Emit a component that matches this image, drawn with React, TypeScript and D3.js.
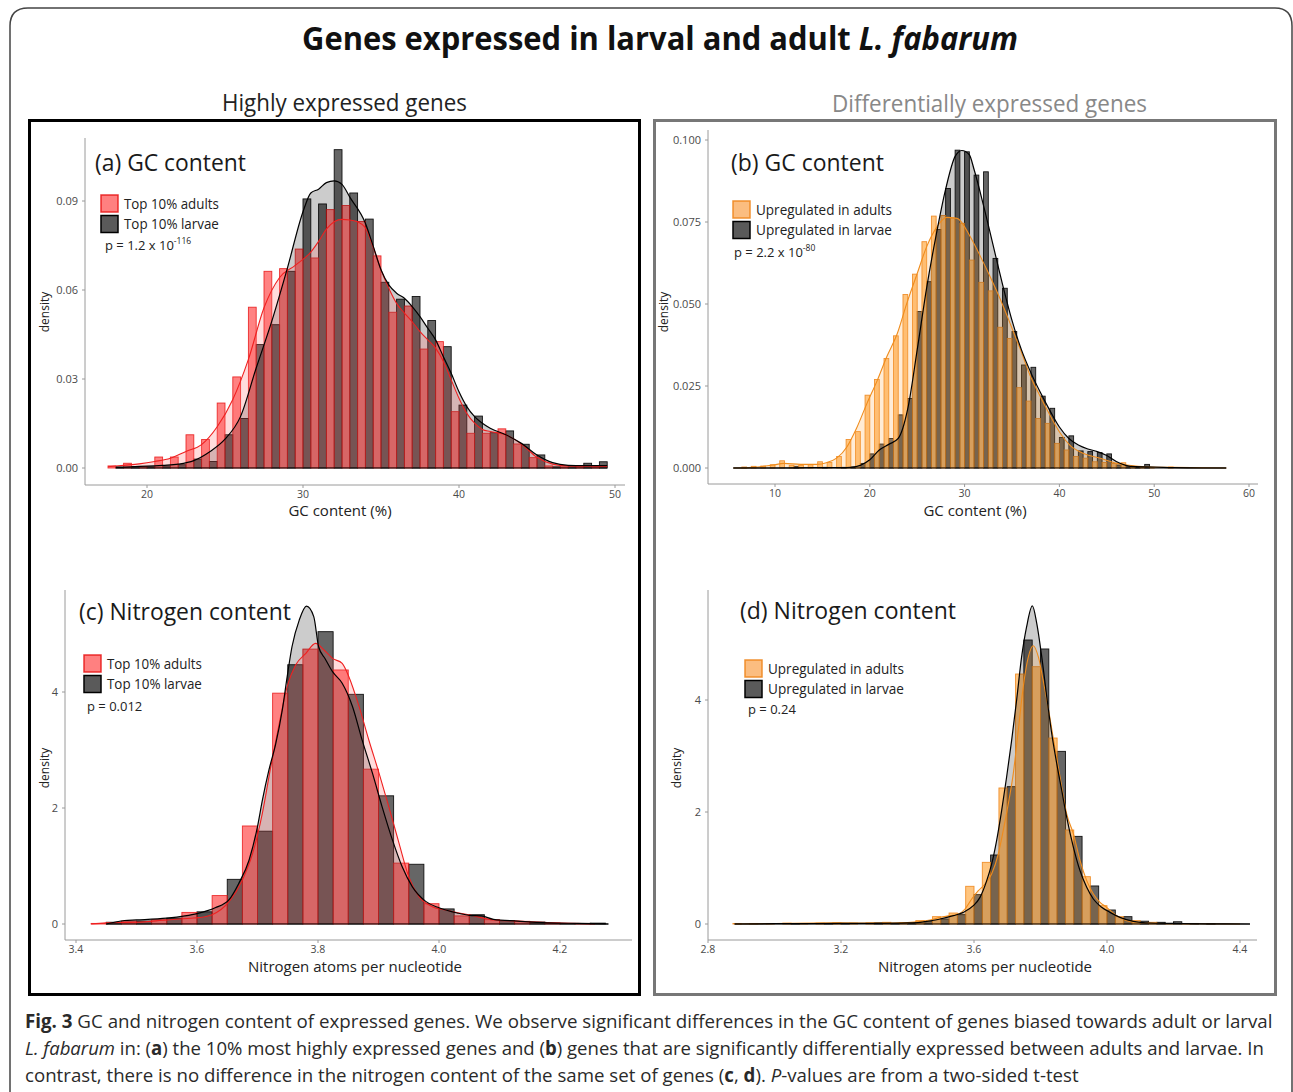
import React, { useLayoutEffect, useRef, useState } from 'react';
import * as d3 from 'd3';

const FONT = "'Open Sans', 'DejaVu Sans', sans-serif";
const CAPFONT = "'Open Sans', 'DejaVu Sans', sans-serif";

// ---------- Panel (a): GC content, top 10% ----------
const binsA = [18, 19, 20, 21, 22, 23, 24, 25, 26, 27, 28, 29, 30, 31, 32, 33, 34, 35, 36, 37, 38, 39, 40, 41, 42, 43, 44, 45, 46, 47, 48, 49];
const adultsA = [0.0007, 0.0016, 0.0005, 0.0037, 0.0037, 0.0112, 0.0096, 0.0219, 0.0307, 0.0542, 0.0663, 0.0672, 0.0738, 0.0708, 0.0871, 0.0885, 0.0831, 0.0715, 0.0525, 0.0546, 0.0401, 0.0426, 0.019, 0.0117, 0.0117, 0.0132, 0.0081, 0.0035, 0.0007, 0.0004, 0.0004, 0.0004];
const larvaeA = [0.0002, 0.0005, 0.0004, 0.0007, 0.0011, 0.003, 0.0022, 0.0112, 0.0167, 0.0416, 0.0483, 0.0663, 0.0907, 0.089, 0.1073, 0.0927, 0.0839, 0.0626, 0.0569, 0.0578, 0.0497, 0.0409, 0.0212, 0.0175, 0.0119, 0.0125, 0.008, 0.0044, 0.0004, 0.0007, 0.0016, 0.0021];
const densAdultAX = [17.5, 18.5, 19.5, 20.5, 21.5, 22.5, 23.5, 24.5, 25.5, 26.5, 27.5, 28.5, 29.5, 30.5, 31, 31.5, 32, 32.5, 33, 33.5, 34, 34.5, 35, 35.5, 36, 36.5, 37, 37.5, 38, 38.5, 39, 39.5, 40, 40.5, 41, 41.5, 42, 43, 44, 45, 46, 47, 48, 49.5];
const densAdultAY = [0.0004, 0.0009, 0.0014, 0.0022, 0.0033, 0.0056, 0.0079, 0.0139, 0.0231, 0.0366, 0.054, 0.0642, 0.0683, 0.0728, 0.0764, 0.0805, 0.083, 0.0838, 0.0836, 0.083, 0.081, 0.0744, 0.0668, 0.0606, 0.0555, 0.0522, 0.0493, 0.046, 0.0432, 0.0404, 0.0359, 0.0297, 0.0235, 0.0184, 0.0151, 0.013, 0.0123, 0.0112, 0.0081, 0.0036, 0.0013, 0.0007, 0.0006, 0.0005];
const densLarvaeAX = [18, 19, 20, 21, 22, 23, 24, 25, 26, 27, 28, 29, 30, 30.5, 31, 31.5, 32, 32.5, 33, 34, 34.5, 35, 35.5, 36, 36.5, 37, 37.5, 38, 38.5, 39, 39.5, 40, 40.5, 41, 41.5, 42, 43, 44, 45, 46, 47, 48, 49, 49.5];
const densLarvaeAY = [0.0003, 0.0004, 0.0006, 0.0009, 0.0013, 0.0025, 0.0054, 0.0097, 0.0174, 0.0337, 0.0495, 0.0674, 0.0864, 0.0927, 0.094, 0.0962, 0.0968, 0.0956, 0.0913, 0.0825, 0.0748, 0.0668, 0.0617, 0.0589, 0.0572, 0.0544, 0.051, 0.0471, 0.0432, 0.0375, 0.0319, 0.0257, 0.0207, 0.0173, 0.0151, 0.0134, 0.0112, 0.0083, 0.0044, 0.0018, 0.0009, 0.0008, 0.0008, 0.0008];

// ---------- Panel (b): GC content, differentially expressed ----------
const binsB = [7, 8, 9, 10, 11, 12, 13, 14, 15, 16, 17, 18, 19, 20, 21, 22, 23, 24, 25, 26, 27, 28, 29, 30, 31, 32, 33, 34, 35, 36, 37, 38, 39, 40, 41, 42, 43, 44, 45, 46, 47, 48, 49, 50, 51, 52];
const adultsB = [0.0003, 0.0005, 0.0006, 0.001, 0.0022, 0.0008, 0.0008, 0.001, 0.0019, 0.0017, 0.0035, 0.0087, 0.0111, 0.0222, 0.027, 0.0334, 0.0403, 0.0529, 0.0591, 0.069, 0.0768, 0.077, 0.0762, 0.0746, 0.0634, 0.0566, 0.054, 0.0429, 0.0395, 0.0245, 0.0204, 0.0151, 0.0136, 0.0075, 0.0055, 0.0035, 0.003, 0.0019, 0.0017, 0.0014, 0.0016, 0.0004, 0.0003, 0.0001, 0, 0.0003];
const larvaeB = [0, 0, 0, 0, 0, 0.0005, 0, 0, 0.0002, 0, 0.0002, 0.0003, 0.0014, 0.0043, 0.0073, 0.009, 0.0162, 0.0212, 0.0477, 0.0568, 0.0727, 0.0852, 0.0969, 0.0964, 0.0893, 0.0903, 0.0639, 0.0548, 0.0416, 0.0314, 0.0307, 0.0219, 0.0182, 0.0093, 0.0098, 0.0052, 0.005, 0.0047, 0.0043, 0.0009, 0.0004, 0.0002, 0.0011, 0, 0, 0];
const densAdultBX = [5.6, 7.6, 9.8, 10.9, 12.7, 14.4, 15.5, 16.5, 17.6, 18.6, 19.7, 20.8, 21.8, 22.9, 23.9, 25, 26, 27.1, 28.1, 29.2, 30.6, 31.6, 32.7, 33.8, 34.8, 35.9, 36.9, 38, 39.1, 40.1, 41.1, 42.5, 44.3, 46.1, 47.1, 49.6, 52, 57.6];
const densAdultBY = [0, 0.0002, 0.0009, 0.0014, 0.0011, 0.0011, 0.0017, 0.003, 0.0065, 0.0121, 0.0197, 0.0268, 0.034, 0.041, 0.0502, 0.0593, 0.0675, 0.0736, 0.0764, 0.0761, 0.0705, 0.0649, 0.0583, 0.0512, 0.0441, 0.036, 0.0283, 0.0217, 0.0156, 0.0106, 0.007, 0.0045, 0.003, 0.0014, 0.0009, 0.0003, 0.0002, 0];
const densLarvaeBX = [5.6, 10, 14, 17, 18, 19, 20, 21, 22, 23, 24, 25, 26, 27, 28, 29, 29.7, 30.5, 31, 32, 33, 34, 35, 36, 37, 38, 39, 40, 41, 42, 43, 44, 45, 46, 47, 48, 50, 52, 55, 57.6];
const densLarvaeBY = [0, 0, 0.0001, 0.0001, 0.0002, 0.0008, 0.0025, 0.0055, 0.0072, 0.009, 0.018, 0.036, 0.055, 0.071, 0.085, 0.095, 0.0968, 0.0955, 0.091, 0.08, 0.068, 0.056, 0.045, 0.036, 0.029, 0.023, 0.0175, 0.0125, 0.009, 0.007, 0.0058, 0.005, 0.0038, 0.002, 0.0008, 0.0004, 0.0003, 0.0001, 0, 0];

// ---------- Panel (c): nitrogen content, top 10% ----------
const binsC = [3.45, 3.5, 3.55, 3.6, 3.65, 3.7, 3.75, 3.8, 3.85, 3.9, 3.95, 4.0, 4.05, 4.1, 4.15, 4.2, 4.25];
const adultsC = [0.01, 0.05, 0.075, 0.2, 0.49, 1.69, 3.98, 4.74, 4.38, 2.67, 1.05, 0.35, 0.14, 0.075, 0.046, 0.017, 0.01];
const larvaeC = [0.03, 0.05, 0.1, 0.21, 0.77, 1.6, 4.47, 5.04, 3.96, 2.21, 1.03, 0.26, 0.16, 0.057, 0.034, 0.01, 0.015];
const densAdultCX = [3.425, 3.45, 3.5, 3.55, 3.59, 3.603, 3.625, 3.653, 3.675, 3.692, 3.708, 3.722, 3.736, 3.749, 3.763, 3.78, 3.796, 3.81, 3.824, 3.84, 3.851, 3.868, 3.884, 3.901, 3.917, 3.934, 3.95, 3.967, 3.989, 4.011, 4.033, 4.053, 4.09, 4.13, 4.19, 4.258];
const densAdultCY = [0, 0.02, 0.03, 0.07, 0.1, 0.11, 0.16, 0.385, 0.759, 1.218, 1.908, 2.713, 3.46, 4.092, 4.466, 4.667, 4.839, 4.724, 4.58, 4.494, 4.264, 3.747, 3.172, 2.598, 2.023, 1.391, 0.816, 0.471, 0.299, 0.241, 0.19, 0.15, 0.07, 0.05, 0.02, 0];
const densLarvaeCX = [3.45, 3.48, 3.5, 3.55, 3.58, 3.6, 3.63, 3.653, 3.669, 3.686, 3.7, 3.708, 3.719, 3.73, 3.741, 3.749, 3.757, 3.769, 3.781, 3.793, 3.801, 3.812, 3.824, 3.84, 3.857, 3.873, 3.89, 3.906, 3.923, 3.939, 3.956, 3.978, 4.0, 4.03, 4.05, 4.07, 4.09, 4.13, 4.18, 4.23, 4.28];
const densLarvaeCY = [0, 0.06, 0.07, 0.1, 0.14, 0.18, 0.28, 0.42, 0.7, 1.1, 1.68, 2.13, 2.66, 3.1, 3.69, 4.26, 4.78, 5.24, 5.48, 5.3, 4.78, 4.57, 4.35, 4.15, 3.75, 3.17, 2.6, 2.02, 1.45, 0.99, 0.64, 0.39, 0.28, 0.19, 0.15, 0.14, 0.08, 0.05, 0.02, 0.01, 0];

// ---------- Panel (d): nitrogen content, differentially expressed ----------
const binsD = [2.9, 2.95, 3.0, 3.05, 3.1, 3.15, 3.2, 3.25, 3.3, 3.35, 3.4, 3.45, 3.5, 3.55, 3.6, 3.65, 3.7, 3.75, 3.8, 3.85, 3.9, 3.95, 4.0, 4.05, 4.1, 4.15, 4.2, 4.25, 4.3];
const adultsD = [0.01, 0.01, 0.01, 0.015, 0.01, 0.015, 0.02, 0.015, 0.02, 0.03, 0.025, 0.06, 0.131, 0.196, 0.673, 1.101, 2.429, 4.464, 4.595, 3.321, 1.679, 0.845, 0.327, 0.131, 0.06, 0.03, 0.01, 0.005, 0];
const larvaeD = [0, 0, 0, 0.005, 0, 0.01, 0.01, 0, 0.02, 0.01, 0.02, 0.048, 0.089, 0.167, 0.524, 1.232, 2.452, 5.071, 4.911, 3.083, 1.565, 0.679, 0.25, 0.131, 0.05, 0.03, 0.04, 0.01, 0.005];
const densAdultDX = [2.88, 3.0, 3.2, 3.3, 3.4, 3.438, 3.468, 3.498, 3.528, 3.553, 3.573, 3.593, 3.613, 3.633, 3.653, 3.673, 3.688, 3.703, 3.718, 3.733, 3.748, 3.763, 3.778, 3.794, 3.808, 3.823, 3.838, 3.859, 3.879, 3.899, 3.919, 3.939, 3.959, 3.979, 3.999, 4.029, 4.059, 4.099, 4.15, 4.25, 4.4];
const densAdultDY = [0, 0.01, 0.02, 0.015, 0.025, 0.042, 0.071, 0.119, 0.149, 0.179, 0.268, 0.446, 0.595, 0.714, 0.893, 1.25, 1.67, 2.14, 2.68, 3.45, 4.23, 4.76, 4.97, 4.76, 4.35, 3.87, 3.33, 2.62, 1.96, 1.61, 1.13, 0.774, 0.536, 0.387, 0.298, 0.149, 0.06, 0.024, 0.01, 0.005, 0];
const densLarvaeDX = [2.88, 3.0, 3.2, 3.3, 3.4, 3.438, 3.458, 3.498, 3.538, 3.568, 3.598, 3.618, 3.638, 3.653, 3.668, 3.683, 3.698, 3.713, 3.728, 3.743, 3.758, 3.7755, 3.789, 3.804, 3.819, 3.834, 3.849, 3.864, 3.879, 3.899, 3.919, 3.939, 3.959, 3.984, 4.009, 4.039, 4.079, 4.13, 4.2, 4.3, 4.43];
const densLarvaeDY = [0, 0.005, 0.01, 0.012, 0.02, 0.03, 0.048, 0.089, 0.149, 0.208, 0.327, 0.476, 0.77, 1.07, 1.49, 2.02, 2.62, 3.27, 3.99, 4.76, 5.3, 5.68, 5.36, 4.76, 4.05, 3.39, 2.86, 2.38, 1.9, 1.37, 0.95, 0.655, 0.446, 0.298, 0.208, 0.119, 0.048, 0.018, 0.01, 0.003, 0];

// ---------- ticks ----------
const xTicksGCa = [20, 30, 40, 50];
const yTicksGCa = [0, 0.03, 0.06, 0.09];
const xTicksGCb = [10, 20, 30, 40, 50, 60];
const yTicksGCb = [0, 0.025, 0.05, 0.075, 0.1];
const xTicksNc = [3.4, 3.6, 3.8, 4.0, 4.2];
const xTicksNd = [2.8, 3.2, 3.6, 4.0, 4.4];
const yTicksN = [0, 2, 4];

const legendTop = ['Top 10% adults', 'Top 10% larvae'];
const legendDE = ['Upregulated in adults', 'Upregulated in larvae'];

const RED = { fill: 'rgba(255,0,0,0.49)', stroke: 'rgba(232,20,20,0.85)', dens: 'rgba(255,96,96,0.22)', line: '#f02020', key: '#ff8080' };
const ORANGE = { fill: 'rgba(255,140,0,0.5)', stroke: 'rgba(238,135,30,0.9)', dens: 'rgba(255,170,70,0.22)', line: '#f08c1c', key: '#fbbd80' };
const DARK = { fill: 'rgba(0,0,0,0.6)', stroke: '#111', dens: 'rgba(0,0,0,0.2)', line: '#000', key: '#5a5a5a' };

// Text that is horizontally scaled to an exact width (measured after layout)
function FitText({ x, y, width, children, ...rest }: any) {
  const ref = useRef<SVGTextElement>(null);
  const [s, setS] = useState(1);
  useLayoutEffect(() => {
    if (ref.current) {
      const w = ref.current.getComputedTextLength();
      if (w > 0) setS(width / w);
    }
  }, [width]);
  return (
    <text ref={ref} transform={`translate(${x},${y}) scale(${s},1)`} {...rest}>{children}</text>
  );
}

type Cfg = {
  xDomain: number[]; xRange: number[]; yDomain: number[]; yRange: number[];
  plot: { x0: number; x1: number; y0: number; y1: number };
  xTicks: number[]; xFmt: (v: number) => string; yTicks: number[]; yFmt: (v: number) => string;
  bins: number[]; binW: number; adult: number[]; larvae: number[];
  dAX: number[]; dAY: number[]; dLX: number[]; dLY: number[];
  col: typeof RED;
  title: string; titleX: number; titleY: number; titleLen: number;
  legend: string[]; legX: number; legY: number; legLen: number;
  pMain: string; pSup: string; pX: number; pY: number;
  xTitle: string; xTitleX: number; xTitleY: number; densX: number; densY: number;
};

function Panel({ c }: { c: Cfg }) {
  const x = d3.scaleLinear().domain(c.xDomain).range(c.xRange);
  const y = d3.scaleLinear().domain(c.yDomain).range(c.yRange);
  const h = c.binW / 2;
  const pairsA = d3.zip(c.dAX, c.dAY) as [number, number][];
  const pairsL = d3.zip(c.dLX, c.dLY) as [number, number][];
  const area = d3.area<[number, number]>().x(d => x(d[0])).y0(y(0)).y1(d => y(d[1])).curve(d3.curveMonotoneX);
  const line = d3.line<[number, number]>().x(d => x(d[0])).y(d => y(d[1])).curve(d3.curveMonotoneX);
  const bar = (vals: number[], left: boolean, fill: string, stroke: string) =>
    c.bins.map((b, i) => {
      const v = vals[i];
      if (!v) return null;
      const a0 = left ? b - h : b;
      const a1 = left ? b : b + h;
      return <rect key={i} x={x(a0)} y={y(v)} width={x(a1) - x(a0)} height={y(0) - y(v)} fill={fill} stroke={stroke} strokeWidth={0.9} />;
    });
  const p = c.plot;
  return (
    <g fontFamily={FONT}>
      <line x1={p.x0} x2={p.x0} y1={p.y0} y2={p.y1} stroke="#9a9a9a" strokeWidth={1} />
      <line x1={p.x0} x2={p.x1} y1={p.y1} y2={p.y1} stroke="#9a9a9a" strokeWidth={1} />
      {c.yTicks.map((t, i) => (
        <g key={'y' + i}>
          <line x1={p.x0 - 3} x2={p.x0} y1={y(t)} y2={y(t)} stroke="#9a9a9a" />
          <text x={p.x0 - 7} y={y(t) + 4} fontSize={11} fill="#4a4a4a" textAnchor="end">{c.yFmt(t)}</text>
        </g>
      ))}
      {c.xTicks.map((t, i) => (
        <g key={'x' + i}>
          <line x1={x(t)} x2={x(t)} y1={p.y1} y2={p.y1 + 3} stroke="#9a9a9a" />
          <text x={x(t)} y={p.y1 + 12.5} fontSize={10.5} fill="#4a4a4a" textAnchor="middle">{c.xFmt(t)}</text>
        </g>
      ))}
      <text x={c.xTitleX} y={c.xTitleY} fontSize={15} fill="#222" textAnchor="middle">{c.xTitle}</text>
      <text transform={`translate(${c.densX},${c.densY}) rotate(-90)`} fontSize={12} fill="#222" textAnchor="middle">density</text>
      {bar(c.larvae, false, DARK.fill, DARK.stroke)}
      {bar(c.adult, true, c.col.fill, c.col.stroke)}
      <path d={area(pairsL) || ''} fill={DARK.dens} />
      <path d={area(pairsA) || ''} fill={c.col.dens} />
      <path d={line(pairsA) || ''} fill="none" stroke={c.col.line} strokeWidth={1.1} />
      <path d={line(pairsL) || ''} fill="none" stroke={DARK.line} strokeWidth={1.2} />
      <line x1={x(c.dLX[0])} x2={x(c.dLX[c.dLX.length - 1])} y1={y(0)} y2={y(0)} stroke="#000" strokeWidth={1.2} />
      <FitText x={c.titleX} y={c.titleY} width={c.titleLen} fontSize={24} fill="#1a1a1a">{c.title}</FitText>
      <rect x={c.legX} y={c.legY} width={17} height={17} fill={c.col.key} stroke={c.col.stroke} strokeWidth={1.5} />
      <rect x={c.legX} y={c.legY + 20.5} width={17} height={17} fill={DARK.key} stroke="#000" strokeWidth={1.5} />
      <FitText x={c.legX + 23} y={c.legY + 13.5} width={c.legLen} fontSize={14} fill="#222">{c.legend[0]}</FitText>
      <FitText x={c.legX + 23} y={c.legY + 34} width={c.legLen} fontSize={14} fill="#222">{c.legend[1]}</FitText>
      <text x={c.pX} y={c.pY} fontSize={13} fill="#222">
        {c.pMain}
        {c.pSup ? <tspan dy={-6} fontSize={8.5}>{c.pSup}</tspan> : null}
      </text>
    </g>
  );
}

const f2 = (v: number) => v.toFixed(2);
const f3 = (v: number) => v.toFixed(3);
const f1 = (v: number) => v.toFixed(1);
const f0 = (v: number) => String(v);

const panels: Cfg[] = [
  {
    xDomain: [20, 50], xRange: [147, 615], yDomain: [0, 0.09], yRange: [468, 201],
    plot: { x0: 85, x1: 625, y0: 138, y1: 485 },
    xTicks: xTicksGCa, xFmt: f0, yTicks: yTicksGCa, yFmt: f2,
    bins: binsA, binW: 1, adult: adultsA, larvae: larvaeA,
    dAX: densAdultAX, dAY: densAdultAY, dLX: densLarvaeAX, dLY: densLarvaeAY, col: RED,
    title: '(a) GC content', titleX: 95, titleY: 171, titleLen: 151,
    legend: legendTop, legX: 101, legY: 195, legLen: 95,
    pMain: 'p = 1.2 x 10', pSup: '-116', pX: 105, pY: 250,
    xTitle: 'GC content (%)', xTitleX: 340, xTitleY: 516, densX: 49, densY: 312,
  },
  {
    xDomain: [10, 60], xRange: [775, 1249], yDomain: [0, 0.1], yRange: [468, 140],
    plot: { x0: 708, x1: 1258, y0: 130, y1: 484 },
    xTicks: xTicksGCb, xFmt: f0, yTicks: yTicksGCb, yFmt: f3,
    bins: binsB, binW: 1, adult: adultsB, larvae: larvaeB,
    dAX: densAdultBX, dAY: densAdultBY, dLX: densLarvaeBX, dLY: densLarvaeBY, col: ORANGE,
    title: '(b) GC content', titleX: 731, titleY: 171, titleLen: 153,
    legend: legendDE, legX: 733, legY: 201, legLen: 136,
    pMain: 'p = 2.2 x 10', pSup: '-80', pX: 734, pY: 257,
    xTitle: 'GC content (%)', xTitleX: 975, xTitleY: 516, densX: 668, densY: 312,
  },
  {
    xDomain: [3.4, 4.2], xRange: [76, 560], yDomain: [0, 4], yRange: [924, 692],
    plot: { x0: 65, x1: 632, y0: 590, y1: 940 },
    xTicks: xTicksNc, xFmt: f1, yTicks: yTicksN, yFmt: f0,
    bins: binsC, binW: 0.05, adult: adultsC, larvae: larvaeC,
    dAX: densAdultCX, dAY: densAdultCY, dLX: densLarvaeCX, dLY: densLarvaeCY, col: RED,
    title: '(c) Nitrogen content', titleX: 79, titleY: 620, titleLen: 212,
    legend: legendTop, legX: 84, legY: 655, legLen: 95,
    pMain: 'p = 0.012', pSup: '', pX: 87, pY: 711,
    xTitle: 'Nitrogen atoms per nucleotide', xTitleX: 355, xTitleY: 972, densX: 49, densY: 768,
  },
  {
    xDomain: [2.8, 4.4], xRange: [708, 1240], yDomain: [0, 4], yRange: [924, 700],
    plot: { x0: 708, x1: 1257, y0: 590, y1: 940 },
    xTicks: xTicksNd, xFmt: f1, yTicks: yTicksN, yFmt: f0,
    bins: binsD, binW: 0.05, adult: adultsD, larvae: larvaeD,
    dAX: densAdultDX, dAY: densAdultDY, dLX: densLarvaeDX, dLY: densLarvaeDY, col: ORANGE,
    title: '(d) Nitrogen content', titleX: 740, titleY: 619, titleLen: 216,
    legend: legendDE, legX: 745, legY: 660, legLen: 136,
    pMain: 'p = 0.24', pSup: '', pX: 748, pY: 714,
    xTitle: 'Nitrogen atoms per nucleotide', xTitleX: 985, xTitleY: 972, densX: 681, densY: 768,
  },
];

export default function App() {
  return (
    <svg width={1293} height={1092} style={{ position: 'absolute', left: 0, top: 0, background: '#fff' }} fontFamily={FONT}>
      <rect x={0} y={0} width={1293} height={1092} fill="#fff" />
      <path d="M10,1095 V26 Q10,8 28,8 H1275 Q1292,8 1292,26 V1095" fill="none" stroke="#444" strokeWidth={1.5} />
      <FitText x={302} y={50} width={716} fontSize={33} fontWeight="bold" fill="#111">
        Genes expressed in larval and adult <tspan fontStyle="italic">L. fabarum</tspan>
      </FitText>
      <FitText x={222} y={111} width={245} fontSize={23} fill="#222">Highly expressed genes</FitText>
      <FitText x={832} y={112} width={315} fontSize={23} fill="#888">Differentially expressed genes</FitText>
      <rect x={29.5} y={120.5} width={610} height={874} fill="none" stroke="#000" strokeWidth={3} />
      <rect x={654.5} y={120.5} width={621} height={874} fill="none" stroke="#777" strokeWidth={3} />
      {panels.map((c, i) => <Panel key={i} c={c} />)}
      <g fontFamily={CAPFONT} fontSize={19} fill="#2a2a2a">
        <FitText x={25} y={1028} width={1248}>
          <tspan fontWeight="bold">Fig. 3</tspan> GC and nitrogen content of expressed genes. We observe significant differences in the GC content of genes biased towards adult or larval
        </FitText>
        <FitText x={25} y={1055} width={1240}>
          <tspan fontStyle="italic">L. fabarum</tspan> in: (<tspan fontWeight="bold">a</tspan>) the 10% most highly expressed genes and (<tspan fontWeight="bold">b</tspan>) genes that are significantly differentially expressed between adults and larvae. In
        </FitText>
        <FitText x={25} y={1082} width={1054}>
          contrast, there is no difference in the nitrogen content of the same set of genes (<tspan fontWeight="bold">c</tspan>, <tspan fontWeight="bold">d</tspan>). <tspan fontStyle="italic">P</tspan>-values are from a two-sided t-test
        </FitText>
      </g>
    </svg>
  );
}
